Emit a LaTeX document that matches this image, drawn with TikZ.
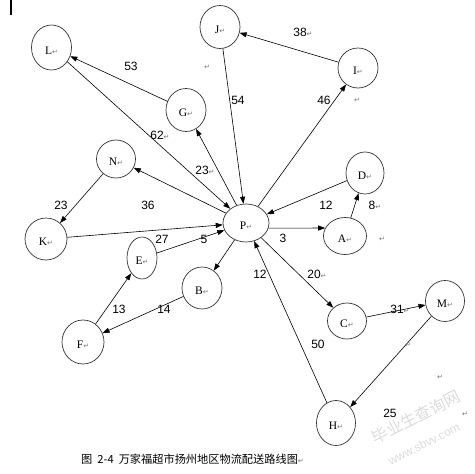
\documentclass[tikz,border=0pt]{standalone}
\usepackage{fontspec}
\setmainfont{Liberation Serif}
\newfontfamily\numfont{Liberation Sans}
\newfontfamily\djv{DejaVu Sans}
\newfontfamily\cjk{Noto Sans CJK SC}
\usetikzlibrary{arrows.meta,shapes.geometric}
\newcommand\retmark{{\djv\fontsize{7}{7}\selectfont\textcolor{black!55}{↵}}}
\begin{document}
\begin{tikzpicture}[x=1pt,y=-1pt,
  stn/.style n args={2}{ellipse, draw=black!80, line width=0.7pt, inner sep=0pt,
    minimum width=#1pt, minimum height=#2pt, text height=13pt, text depth=0pt,
    font=\fontsize{11.5}{11.5}\selectfont},
  arr/.style={-{Triangle[length=7pt,width=5pt]}, line width=0.6pt},
  wt/.style={font=\numfont\fontsize{12}{12}\selectfont, inner sep=0pt},
  ret/.style={inner sep=0pt},
  wm/.style={rotate=27, text=black!14, inner sep=0pt}]
\useasboundingbox (0,0) rectangle (475,474);
\fill[black] (10,0) rectangle (12,15);
% stations
\node[stn={40}{45}] (L) at (51.5,47.5) {L\retmark};
\node[stn={40}{43}] (J) at (220,27) {J\retmark};
\node[stn={40}{43}] (G) at (186,110) {G\retmark};
\node[stn={40}{40}] (I) at (358,68) {I\retmark};
\node[stn={39}{38}] (N) at (116,159) {N\retmark};
\node[stn={42}{42}] (K) at (46,239) {K\retmark};
\node[stn={30}{42}] (E) at (142,258) {E\retmark};
\node[stn={46}{38}] (P) at (246,223) {P\retmark};
\node[stn={38}{42}] (D) at (365,173) {D\retmark};
\node[stn={43}{37}] (A) at (345,236) {A\retmark};
\node[stn={40}{42}] (B) at (202,288) {B\retmark};
\node[stn={42}{44}] (F) at (83,342) {F\retmark};
\node[stn={39}{36}] (C) at (347,321) {C\retmark};
\node[stn={39}{41}] (M) at (445,301) {M\retmark};
\node[stn={39}{45}] (H) at (336,423) {H\retmark};
% connectors
\draw[arr] (G) -- (L);
\draw[arr] (L) -- (P);
\draw[arr] (P) -- (G);
\draw[arr] (J) -- (P);
\draw[arr] (I) -- (J);
\draw[arr] (P) -- (I);
\draw[arr] (D) -- (P);
\draw[arr] (A) -- (D);
\draw[arr] (P.-13) -- (A.158);
\draw[arr] (P) -- (C);
\draw[arr] (C) -- (M);
\draw[arr] (M) -- (H);
\draw[arr] (H) -- (P);
\draw[arr] (P) -- (B);
\draw[arr] (E) -- (P);
\draw[arr] (F) -- (E);
\draw[arr] (B) -- (F);
\draw[arr] (K) -- (P);
\draw[arr] (P) -- (N);
\draw[arr] (N) -- (K);
% weights
\node[wt] (w53) at (131,66) {53};
\node[wt] (w62) at (160,135) {62\retmark};
\node[wt] (w54) at (238,100) {54};
\node[wt] (w38) at (303,32) {38\retmark};
\node[wt] (w46) at (324,100) {46};
\node[wt] (w23a) at (205,170) {23\retmark};
\node[wt] (w36) at (148,205) {36};
\node[wt] (w23b) at (61,205) {23};
\node[wt] (w27) at (162,239) {27};
\node[wt] (w5) at (204,239) {5};
\node[wt] (w12a) at (326,205) {12};
\node[wt] (w8) at (375,205) {8\retmark};
\node[wt] (w3) at (283,238) {3};
\node[wt] (w12b) at (260,274) {12};
\node[wt] (w20) at (317,274) {20\retmark};
\node[wt] (w31) at (400,309) {31\retmark};
\node[wt] (w50) at (318,344) {50};
\node[wt] (w25) at (390,413) {25};
\node[wt] (w13) at (119,309) {13};
\node[wt] (w14) at (164,309) {14};
% stray paragraph marks
\node[ret] (r1) at (207,67) {\retmark};
\node[ret] (r2) at (357,100) {\retmark};
\node[ret] (r3) at (382,239) {\retmark};
\node[ret] (r4) at (408,345) {\retmark};
\node[ret] (r5) at (440,377) {\retmark};
\node[ret] (r6) at (465,414) {\retmark};
% watermark
\node[wm, font=\cjk\fontsize{16}{16}\selectfont] (wm1) at (416,417) {毕业生查询网};
\node[wm, font=\numfont\fontsize{12}{12}\selectfont] (wm2) at (424,444) {www.sbvv.com};
% caption
\node[anchor=west, inner sep=0pt, font=\cjk\fontsize{11.2}{11.2}\selectfont] (cap) at (81,459) {图\ \ 2-4\ \ 万家福超市扬州地区物流配送路线图\retmark};
\end{tikzpicture}
\end{document}
